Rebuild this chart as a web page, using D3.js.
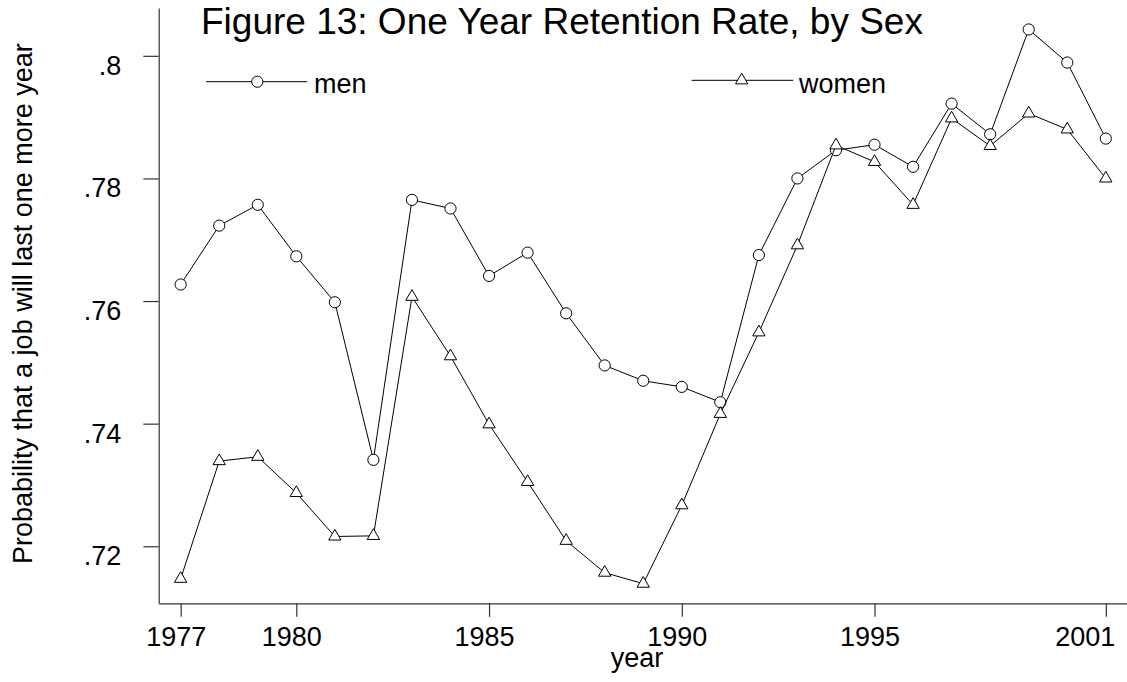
<!DOCTYPE html>
<html>
<head>
<meta charset="utf-8">
<script src="https://cdn.jsdelivr.net/npm/d3@7"></script>
<style>
  html, body { margin: 0; padding: 0; background: #fff; }
  svg { display: block; font-family: "Liberation Sans", Arial, Helvetica, sans-serif; }
</style>
</head>
<body>
<svg id="chart" width="1127" height="682"></svg>
<script>
// One-year retention rate by year and sex
const years = [1977, 1978, 1979, 1980, 1981, 1982, 1983, 1984, 1985, 1986, 1987, 1988, 1989,
               1990, 1991, 1992, 1993, 1994, 1995, 1996, 1997, 1998, 1999, 2000, 2001];
const men = [.7627, .7723, .7757, .7673, .7598, .7341, .7765, .7751, .7641, .7679, .7580, .7495, .7470,
             .7460, .7435, .7675, .7800, .7846, .7855, .7819, .7922, .7872, .8043, .7989, .7865];
const women = [.7147, .7339, .7346, .7287, .7216, .7217, .7607, .7510, .7399, .7305, .7209, .7157, .7139,
               .7267, .7416, .7549, .7691, .7854, .7827, .7757, .7898, .7853, .7906, .7880, .7800];
const xTicks = [1977, 1980, 1985, 1990, 1995, 2001];
const yTicks = [.72, .74, .76, .78, .8];
const seriesNames = ["men", "women"];

const svg = d3.select("#chart");

const x = d3.scaleLinear().domain([1976.43, 2001.55]).range([158.7, 1127]);
const y = d3.scaleLinear().domain([0.7107, 0.8078]).range([603.3, 8]);

const fmt = v => d3.format(".2~f")(v).replace(/^0/, "");

// Title
svg.append("text")
  .attr("x", 201).attr("y", 34)
  .attr("font-size", 37)
  .text("Figure 13: One Year Retention Rate, by Sex");

// Y axis
const yAxis = svg.append("g")
  .attr("transform", `translate(${x.range()[0]},0)`)
  .call(d3.axisLeft(y).tickValues(yTicks).tickFormat(fmt).tickSize(15.4).tickSizeOuter(0).tickPadding(22));
yAxis.selectAll("text").attr("dy", "18.5").attr("font-size", 27).attr("font-family", null).attr("fill", "#000");

// X axis
const xAxis = svg.append("g")
  .attr("transform", `translate(0,${y.range()[0]})`)
  .call(d3.axisBottom(x).tickValues(xTicks).tickFormat(d3.format("d")).tickSize(13.5).tickSizeOuter(0));
xAxis.selectAll("text")
  .attr("y", 42.7).attr("dy", 0)
  .attr("font-size", 27).attr("font-family", null).attr("fill", "#000")
  .attr("dx", d => d === 2001 ? -21 : -5);

svg.selectAll(".domain, .tick line").attr("stroke", "#333").attr("stroke-width", 1.2);

// Axis titles
svg.append("text")
  .attr("x", 637).attr("y", 667)
  .attr("text-anchor", "middle").attr("font-size", 27)
  .text("year");

svg.append("text")
  .attr("transform", "translate(31.7,564) rotate(-90)")
  .attr("font-size", 27)
  .text("Probability that a job will last one more year");

// Series
const line = d3.line().x((d, i) => x(years[i])).y(d => y(d));
const tri = d3.symbol().type(d3.symbolTriangle).size(66);

function drawSeries(vals, kind) {
  const g = svg.append("g");
  g.append("path").datum(vals)
    .attr("d", line).attr("fill", "none").attr("stroke", "#000").attr("stroke-width", 1);
  if (kind === "circle") {
    g.selectAll("circle").data(vals).join("circle")
      .attr("cx", (d, i) => x(years[i])).attr("cy", d => y(d)).attr("r", 5.6)
      .attr("fill", "#fff").attr("stroke", "#000").attr("stroke-width", 1);
  } else {
    g.selectAll("path.m").data(vals).join("path").attr("class", "m")
      .attr("d", tri)
      .attr("transform", (d, i) => `translate(${x(years[i])},${y(d)})`)
      .attr("fill", "#fff").attr("stroke", "#000").attr("stroke-width", 1);
  }
}
drawSeries(men, "circle");
drawSeries(women, "triangle");

// Legend
const legend = [
  { name: seriesNames[0], kind: "circle", x0: 206, x1: 307.3, mx: 257.3, ly: 81.7, tx: 314 },
  { name: seriesNames[1], kind: "triangle", x0: 691.7, x1: 793.3, mx: 741.7, ly: 80.3, tx: 799 }
];
legend.forEach(l => {
  const g = svg.append("g");
  g.append("line").attr("x1", l.x0).attr("x2", l.x1).attr("y1", l.ly).attr("y2", l.ly)
    .attr("stroke", "#000").attr("stroke-width", 1);
  if (l.kind === "circle") {
    g.append("circle").attr("cx", l.mx).attr("cy", l.ly).attr("r", 5.6)
      .attr("fill", "#fff").attr("stroke", "#000");
  } else {
    g.append("path").attr("d", tri).attr("transform", `translate(${l.mx},${l.ly})`)
      .attr("fill", "#fff").attr("stroke", "#000");
  }
  g.append("text").attr("x", l.tx).attr("y", 93.3).attr("font-size", 27).text(l.name);
});
</script>
</body>
</html>
